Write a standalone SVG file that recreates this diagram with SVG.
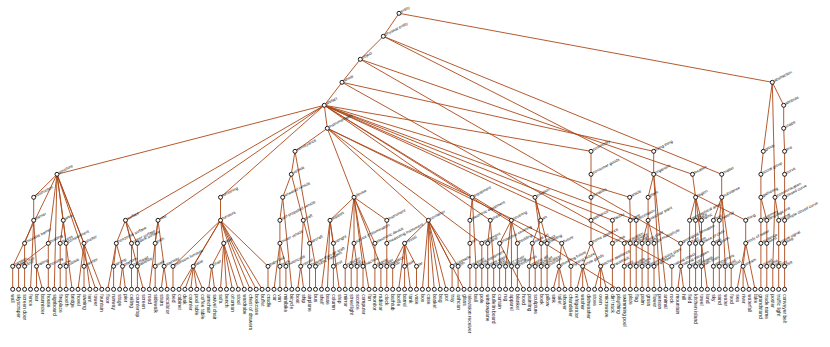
<svg xmlns="http://www.w3.org/2000/svg" width="830" height="347" viewBox="0 0 830 347">
<style>
.edges path{stroke:#ad4717;stroke-width:0.9;fill:none}
.nodes circle{fill:#fff;stroke:#111;stroke-width:0.95}
.il{font-family:"Liberation Sans",Arial,sans-serif;font-size:4px;fill:#111}
.ll{font-family:"Liberation Sans",Arial,sans-serif;font-size:4.9px;fill:#111}
</style>
<rect width="830" height="347" fill="#fff"/>
<g id="connectors" class="edges">
<path d="M399 13.3L383.3 36.3M399 13.3L772.3 82.3"/>
<path d="M383.3 36.3L360.3 59.3M383.3 36.3L721.7 174.3M383.3 36.3L745.7 220.3"/>
<path d="M360.3 59.3L342 82.3M360.3 59.3L680.7 243.3M360.3 59.3L692.5 174.3"/>
<path d="M342 82.3L324.3 105.3M342 82.3L653.7 151.3M342 82.3L671.8 266.3"/>
<path d="M324.3 105.3L327.3 128.3M324.3 105.3L57 174.3M324.3 105.3L125.5 220.3M324.3 105.3L158 220.3M324.3 105.3L220.5 197.3M324.3 105.3L490.3 220.3M324.3 105.3L511.3 220.3M324.3 105.3L535 197.3M324.3 105.3L591 151.3M324.3 105.3L612.4 220.3M324.3 105.3L624.3 243.3M324.3 105.3L629.7 197.3M324.3 105.3L636.2 220.3M324.3 105.3L618.4 289.3"/>
<path d="M327.3 128.3L295 151.3M327.3 128.3L354 197.3M327.3 128.3L428.4 220.3M327.3 128.3L472.3 197.3M327.3 128.3L481.8 243.3M327.3 128.3L561.7 243.3"/>
<path d="M57 174.3L33.7 197.3M57 174.3L63.3 220.3M57 174.3L48.3 243.3M57 174.3L12.7 266.3M57 174.3L84 243.3M57 174.3L54.3 289.3M57 174.3L72.1 289.3M57 174.3L95.8 289.3M57 174.3L101.8 289.3"/>
<path d="M33.7 197.3L33.7 220.3M33.7 220.3L24.6 243.3L24.6 266.3L24.6 289.3M33.7 220.3L36.5 266.3M33.7 220.3L30.5 289.3M36.5 266.3L36.5 289.3M36.5 266.3L42.4 289.3M12.7 266.3L12.7 289.3"/>
<path d="M48.3 243.3L18.6 266.3L18.6 289.3M48.3 243.3L48.3 266.3L48.3 289.3"/>
<path d="M63.3 220.3L60.2 243.3L60.2 266.3L60.2 289.3M63.3 220.3L66.1 243.3L66.1 266.3L66.1 289.3"/>
<path d="M84 243.3L84 266.3L84 289.3M84 243.3L78 289.3M84 243.3L89.9 289.3"/>
<path d="M125.5 220.3L116.3 243.3M125.5 220.3L131.5 243.3L131.5 266.3L131.5 289.3M125.5 220.3L137.4 243.3L137.4 266.3L137.4 289.3M125.5 220.3L143.3 289.3"/>
<path d="M116.3 243.3L113.6 266.3L113.6 289.3M116.3 243.3L122.5 266.3M116.3 243.3L107.7 289.3M122.5 266.3L119.6 289.3M122.5 266.3L125.5 289.3"/>
<path d="M158 220.3L155.2 243.3L155.2 266.3L155.2 289.3M158 220.3L164.1 266.3M158 220.3L149.3 289.3M164.1 266.3L161.2 289.3M164.1 266.3L167.1 289.3"/>
<path d="M220.5 197.3L220.5 220.3M220.5 220.3L173 266.3L173 289.3M220.5 220.3L193.3 266.3M220.5 220.3L223.7 243.3M220.5 220.3L268 266.3L268 289.3M220.5 220.3L179 289.3M220.5 220.3L244.3 289.3M220.5 220.3L250.2 289.3M220.5 220.3L256.2 289.3M220.5 220.3L262.1 289.3"/>
<path d="M193.3 266.3L184.9 289.3M193.3 266.3L190.8 289.3M193.3 266.3L196.8 289.3M193.3 266.3L202.7 289.3"/>
<path d="M223.7 243.3L211.6 266.3M223.7 243.3L220.5 289.3M223.7 243.3L226.5 289.3M223.7 243.3L232.4 289.3M223.7 243.3L238.3 289.3M211.6 266.3L208.7 289.3M211.6 266.3L214.6 289.3"/>
<path d="M295 151.3L291.3 174.3M295 151.3L315.5 266.3L315.5 289.3M291.3 174.3L282.7 197.3M291.3 174.3L303.3 220.3M282.7 197.3L279.9 220.3L279.9 243.3L279.9 266.3L279.9 289.3M282.7 197.3L291.8 289.3M279.9 243.3L285.9 266.3L285.9 289.3M279.9 243.3L274 289.3"/>
<path d="M303.3 220.3L300.7 266.3M303.3 220.3L309.6 243.3L309.6 266.3L309.6 289.3M300.7 266.3L297.7 289.3M300.7 266.3L303.7 289.3"/>
<path d="M354 197.3L330 220.3M354 197.3L345.2 266.3L345.2 289.3M354 197.3L354 243.3M354 197.3L363 266.3L363 289.3M354 197.3L374.9 243.3L374.9 266.3L374.9 289.3M354 197.3L380.9 266.3L380.9 289.3M354 197.3L386.8 220.3L386.8 243.3L386.8 266.3L386.8 289.3M354 197.3L369 289.3"/>
<path d="M330 220.3L333.4 243.3L333.4 266.3L333.4 289.3M330 220.3L321.5 289.3M330 220.3L327.4 289.3M330 220.3L339.3 289.3M354 243.3L351.2 266.3L351.2 289.3M354 243.3L357.1 266.3L357.1 289.3"/>
<path d="M428.4 220.3L404.6 243.3M428.4 220.3L452.1 266.3L452.1 289.3M428.4 220.3L458.1 266.3L458.1 289.3M428.4 220.3L422.4 289.3M428.4 220.3L428.4 289.3M428.4 220.3L434.3 289.3M428.4 220.3L440.2 289.3M428.4 220.3L446.2 289.3M428.4 220.3L464 289.3"/>
<path d="M404.6 243.3L392.7 266.3L392.7 289.3M404.6 243.3L404.6 266.3L404.6 289.3M404.6 243.3L416.5 266.3L416.5 289.3M404.6 243.3L398.7 289.3M404.6 243.3L410.5 289.3"/>
<path d="M472.3 197.3L469.9 220.3L469.9 243.3L469.9 266.3L469.9 289.3M472.3 197.3L475.9 266.3L475.9 289.3M481.8 243.3L481.8 266.3L481.8 289.3"/>
<path d="M490.3 220.3L487.7 243.3L487.7 266.3L487.7 289.3M490.3 220.3L493.7 266.3L493.7 289.3"/>
<path d="M511.3 220.3L499.6 243.3L499.6 266.3L499.6 289.3M499.6 243.3L523.4 289.3M511.3 220.3L505.6 266.3L505.6 289.3M511.3 220.3L511.5 266.3L511.5 289.3M511.3 220.3L517.4 243.3L517.4 266.3L517.4 289.3"/>
<path d="M535 197.3L540.7 220.3L532.3 243.3M535 197.3L541.2 243.3L541.2 266.3L541.2 289.3M535 197.3L547.1 243.3L547.1 266.3L547.1 289.3M532.3 243.3L529.3 266.3L529.3 289.3M532.3 243.3L535.2 266.3L535.2 289.3"/>
<path d="M561.7 243.3L559 266.3M561.7 243.3L570.9 266.3L570.9 289.3M559 266.3L553.1 289.3M559 266.3L559 289.3M559 266.3L564.9 289.3"/>
<path d="M591 151.3L591 174.3L591 197.3L591 220.3L591 243.3M591 243.3L582.7 266.3M591 243.3L600.6 266.3M582.7 266.3L576.8 289.3M582.7 266.3L582.7 289.3M582.7 266.3L588.7 289.3M600.6 266.3L594.6 289.3M600.6 266.3L600.6 289.3M600.6 266.3L606.5 289.3"/>
<path d="M612.4 220.3L612.4 243.3L612.4 266.3L612.4 289.3M624.3 243.3L624.3 266.3L624.3 289.3M629.7 197.3L630.3 220.3L630.3 243.3L630.3 266.3L630.3 289.3M636.2 220.3L636.2 243.3L636.2 266.3L636.2 289.3"/>
<path d="M653.7 151.3L653.7 174.3L648.1 197.3L648.1 220.3M653.7 174.3L659.9 289.3M653.7 174.3L665.9 289.3M648.1 220.3L642.1 243.3L642.1 266.3L642.1 289.3M648.1 220.3L648.1 243.3L648.1 266.3L648.1 289.3M648.1 220.3L654 243.3L654 266.3L654 289.3"/>
<path d="M671.8 266.3L671.8 289.3M680.7 243.3L680.7 266.3M680.7 266.3L677.8 289.3M680.7 266.3L683.7 289.3"/>
<path d="M692.5 174.3L695.6 197.3M695.6 197.3L689.6 220.3L689.6 243.3L689.6 266.3L689.6 289.3M695.6 197.3L695.6 220.3L695.6 243.3L695.6 266.3L695.6 289.3M695.6 197.3L701.5 220.3L701.5 243.3L701.5 266.3L701.5 289.3M695.6 197.3L707.4 289.3"/>
<path d="M721.7 174.3L721.7 197.3M721.7 197.3L713.4 220.3L713.4 243.3L713.4 266.3L713.4 289.3M721.7 197.3L719.3 220.3L719.3 243.3L719.3 266.3L719.3 289.3M721.7 197.3L725.3 266.3L725.3 289.3M721.7 197.3L731.2 266.3L731.2 289.3"/>
<path d="M745.7 220.3L745.7 243.3M745.7 243.3L743.1 266.3M745.7 243.3L737.1 289.3M745.7 243.3L755 289.3M743.1 266.3L743.1 289.3M743.1 266.3L749 289.3"/>
<path d="M772.3 82.3L783.7 105.3L783.7 128.3L784.6 151.3L784.6 174.3L784.6 197.3L784.6 220.3L784.6 243.3L784.6 266.3L784.6 289.3M772.3 82.3L763.3 151.3L760.9 174.3L760.9 197.3M772.3 82.3L775 197.3"/>
<path d="M760.9 197.3L760.9 220.3L760.9 243.3L760.9 266.3L760.9 289.3M760.9 197.3L766.8 220.3L766.8 243.3L766.8 266.3L766.8 289.3M775 197.3L778.7 220.3L778.7 243.3L778.7 266.3L778.7 289.3M775 197.3L772.8 266.3L772.8 289.3"/>
</g>
<g id="nodes" class="nodes">
<g id="n-entity"><circle cx="399" cy="13.3" r="2"/><text class="il" transform="translate(401.4,12.8) rotate(-27)">entity</text></g>
<g id="n-physical-entity"><circle cx="383.3" cy="36.3" r="2"/><text class="il" transform="translate(385.7,35.8) rotate(-27)">physical entity</text></g>
<g id="n-object"><circle cx="360.3" cy="59.3" r="2"/><text class="il" transform="translate(362.7,58.8) rotate(-27)">object</text></g>
<g id="n-whole"><circle cx="342" cy="82.3" r="2"/><text class="il" transform="translate(344.4,81.8) rotate(-27)">whole</text></g>
<g id="n-artifact"><circle cx="324.3" cy="105.3" r="2"/><text class="il" transform="translate(326.7,104.8) rotate(-27)">artifact</text></g>
<g id="n-instrumentality"><circle cx="327.3" cy="128.3" r="2"/><text class="il" transform="translate(329.7,127.8) rotate(-27)">instrumentality</text></g>
<g id="n-abstraction"><circle cx="772.3" cy="82.3" r="2"/><text class="il" transform="translate(774.7,81.8) rotate(-27)">abstraction</text></g>
<g id="n-structure"><circle cx="57" cy="174.3" r="2"/><text class="il" transform="translate(59.4,173.8) rotate(-27)">structure</text></g>
<g id="n-obstruction"><circle cx="33.7" cy="197.3" r="2"/><text class="il" transform="translate(36.1,196.8) rotate(-27)">obstruction</text></g>
<g id="n-barrier"><circle cx="33.7" cy="220.3" r="2"/><text class="il" transform="translate(36.1,219.8) rotate(-27)">barrier</text></g>
<g id="n-movable-barrier"><circle cx="24.6" cy="243.3" r="2"/><text class="il" transform="translate(27,242.8) rotate(-27)">movable barrier</text></g>
<g id="n-door"><circle cx="24.6" cy="266.3" r="2"/><text class="il" transform="translate(27,265.8) rotate(-27)">door</text></g>
<g id="n-railing"><circle cx="36.5" cy="266.3" r="2"/><text class="il" transform="translate(38.9,265.8) rotate(-27)">railing</text></g>
<g id="n-partition"><circle cx="12.7" cy="266.3" r="2"/><text class="il" transform="translate(15.1,265.8) rotate(-27)">partition</text></g>
<g id="n-building"><circle cx="48.3" cy="243.3" r="2"/><text class="il" transform="translate(50.7,242.8) rotate(-27)">building</text></g>
<g id="n-high-rise"><circle cx="18.6" cy="266.3" r="2"/><text class="il" transform="translate(21,265.8) rotate(-27)">high-rise</text></g>
<g id="n-housing"><circle cx="48.3" cy="266.3" r="2"/><text class="il" transform="translate(50.7,265.8) rotate(-27)">housing</text></g>
<g id="n-area"><circle cx="63.3" cy="220.3" r="2"/><text class="il" transform="translate(65.7,219.8) rotate(-27)">area</text></g>
<g id="n-recess"><circle cx="60.2" cy="243.3" r="2"/><text class="il" transform="translate(62.6,242.8) rotate(-27)">recess</text></g>
<g id="n-niche"><circle cx="60.2" cy="266.3" r="2"/><text class="il" transform="translate(62.6,265.8) rotate(-27)">niche</text></g>
<g id="n-compartment"><circle cx="66.1" cy="243.3" r="2"/><text class="il" transform="translate(68.5,242.8) rotate(-27)">compartment</text></g>
<g id="n-cubicle"><circle cx="66.1" cy="266.3" r="2"/><text class="il" transform="translate(68.5,265.8) rotate(-27)">cubicle</text></g>
<g id="n-shelter"><circle cx="84" cy="243.3" r="2"/><text class="il" transform="translate(86.4,242.8) rotate(-27)">shelter</text></g>
<g id="n-canopy"><circle cx="84" cy="266.3" r="2"/><text class="il" transform="translate(86.4,265.8) rotate(-27)">canopy</text></g>
<g id="n-surface"><circle cx="125.5" cy="220.3" r="2"/><text class="il" transform="translate(127.9,219.8) rotate(-27)">surface</text></g>
<g id="n-horizontal-surface"><circle cx="116.3" cy="243.3" r="2"/><text class="il" transform="translate(118.7,242.8) rotate(-27)">horizontal surface</text></g>
<g id="n-airstrip"><circle cx="113.6" cy="266.3" r="2"/><text class="il" transform="translate(116,265.8) rotate(-27)">airstrip</text></g>
<g id="n-platform"><circle cx="122.5" cy="266.3" r="2"/><text class="il" transform="translate(124.9,265.8) rotate(-27)">platform</text></g>
<g id="n-upper-surface"><circle cx="131.5" cy="243.3" r="2"/><text class="il" transform="translate(133.9,242.8) rotate(-27)">upper surface</text></g>
<g id="n-overhead"><circle cx="131.5" cy="266.3" r="2"/><text class="il" transform="translate(133.9,265.8) rotate(-27)">overhead</text></g>
<g id="n-work-surface"><circle cx="137.4" cy="243.3" r="2"/><text class="il" transform="translate(139.8,242.8) rotate(-27)">work surface</text></g>
<g id="n-tabletop"><circle cx="137.4" cy="266.3" r="2"/><text class="il" transform="translate(139.8,265.8) rotate(-27)">tabletop</text></g>
<g id="n-way"><circle cx="158" cy="220.3" r="2"/><text class="il" transform="translate(160.4,219.8) rotate(-27)">way</text></g>
<g id="n-path"><circle cx="155.2" cy="243.3" r="2"/><text class="il" transform="translate(157.6,242.8) rotate(-27)">path</text></g>
<g id="n-walk"><circle cx="155.2" cy="266.3" r="2"/><text class="il" transform="translate(157.6,265.8) rotate(-27)">walk</text></g>
<g id="n-stairway"><circle cx="164.1" cy="266.3" r="2"/><text class="il" transform="translate(166.5,265.8) rotate(-27)">stairway</text></g>
<g id="n-furnishing"><circle cx="220.5" cy="197.3" r="2"/><text class="il" transform="translate(222.9,196.8) rotate(-27)">furnishing</text></g>
<g id="n-furniture"><circle cx="220.5" cy="220.3" r="2"/><text class="il" transform="translate(222.9,219.8) rotate(-27)">furniture</text></g>
<g id="n-bedroom-furniture"><circle cx="173" cy="266.3" r="2"/><text class="il" transform="translate(175.4,265.8) rotate(-27)">bedroom furniture</text></g>
<g id="n-table"><circle cx="193.3" cy="266.3" r="2"/><text class="il" transform="translate(195.7,265.8) rotate(-27)">table</text></g>
<g id="n-seat"><circle cx="223.7" cy="243.3" r="2"/><text class="il" transform="translate(226.1,242.8) rotate(-27)">seat</text></g>
<g id="n-chair"><circle cx="211.6" cy="266.3" r="2"/><text class="il" transform="translate(214,265.8) rotate(-27)">chair</text></g>
<g id="n-baby-bed"><circle cx="268" cy="266.3" r="2"/><text class="il" transform="translate(270.4,265.8) rotate(-27)">baby bed</text></g>
<g id="n-conveyance"><circle cx="295" cy="151.3" r="2"/><text class="il" transform="translate(297.4,150.8) rotate(-27)">conveyance</text></g>
<g id="n-vehicle"><circle cx="291.3" cy="174.3" r="2"/><text class="il" transform="translate(293.7,173.8) rotate(-27)">vehicle</text></g>
<g id="n-wheeled-vehicle"><circle cx="282.7" cy="197.3" r="2"/><text class="il" transform="translate(285.1,196.8) rotate(-27)">wheeled vehicle</text></g>
<g id="n-self-propelled-vehicle"><circle cx="279.9" cy="220.3" r="2"/><text class="il" transform="translate(282.3,219.8) rotate(-27)">self-propelled vehicle</text></g>
<g id="n-motor-vehicle"><circle cx="279.9" cy="243.3" r="2"/><text class="il" transform="translate(282.3,242.8) rotate(-27)">motor vehicle</text></g>
<g id="n-truck"><circle cx="279.9" cy="266.3" r="2"/><text class="il" transform="translate(282.3,265.8) rotate(-27)">truck</text></g>
<g id="n-motorcycle"><circle cx="285.9" cy="266.3" r="2"/><text class="il" transform="translate(288.3,265.8) rotate(-27)">motorcycle</text></g>
<g id="n-craft"><circle cx="303.3" cy="220.3" r="2"/><text class="il" transform="translate(305.7,219.8) rotate(-27)">craft</text></g>
<g id="n-vessel-craft"><circle cx="300.7" cy="266.3" r="2"/><text class="il" transform="translate(303.1,265.8) rotate(-27)">vessel</text></g>
<g id="n-aircraft"><circle cx="309.6" cy="243.3" r="2"/><text class="il" transform="translate(312,242.8) rotate(-27)">aircraft</text></g>
<g id="n-heavier-than-air-craft"><circle cx="309.6" cy="266.3" r="2"/><text class="il" transform="translate(312,265.8) rotate(-27)">heavier-than-air craft</text></g>
<g id="n-public-transport"><circle cx="315.5" cy="266.3" r="2"/><text class="il" transform="translate(317.9,265.8) rotate(-27)">public transport</text></g>
<g id="n-device"><circle cx="354" cy="197.3" r="2"/><text class="il" transform="translate(356.4,196.8) rotate(-27)">device</text></g>
<g id="n-support"><circle cx="330" cy="220.3" r="2"/><text class="il" transform="translate(332.4,219.8) rotate(-27)">support</text></g>
<g id="n-upright"><circle cx="333.4" cy="243.3" r="2"/><text class="il" transform="translate(335.8,242.8) rotate(-27)">upright</text></g>
<g id="n-post"><circle cx="333.4" cy="266.3" r="2"/><text class="il" transform="translate(335.8,265.8) rotate(-27)">post</text></g>
<g id="n-reflector"><circle cx="345.2" cy="266.3" r="2"/><text class="il" transform="translate(347.6,265.8) rotate(-27)">reflector</text></g>
<g id="n-source-of-illumination"><circle cx="354" cy="243.3" r="2"/><text class="il" transform="translate(356.4,242.8) rotate(-27)">source of illumination</text></g>
<g id="n-lamp"><circle cx="351.2" cy="266.3" r="2"/><text class="il" transform="translate(353.6,265.8) rotate(-27)">lamp</text></g>
<g id="n-light-fixture"><circle cx="357.1" cy="266.3" r="2"/><text class="il" transform="translate(359.5,265.8) rotate(-27)">light</text></g>
<g id="n-machine"><circle cx="363" cy="266.3" r="2"/><text class="il" transform="translate(365.4,265.8) rotate(-27)">machine</text></g>
<g id="n-electronic-device"><circle cx="374.9" cy="243.3" r="2"/><text class="il" transform="translate(377.3,242.8) rotate(-27)">electronic device</text></g>
<g id="n-display"><circle cx="374.9" cy="266.3" r="2"/><text class="il" transform="translate(377.3,265.8) rotate(-27)">display</text></g>
<g id="n-heater"><circle cx="380.9" cy="266.3" r="2"/><text class="il" transform="translate(383.3,265.8) rotate(-27)">heater</text></g>
<g id="n-instrument"><circle cx="386.8" cy="220.3" r="2"/><text class="il" transform="translate(389.2,219.8) rotate(-27)">instrument</text></g>
<g id="n-measuring-instrument"><circle cx="386.8" cy="243.3" r="2"/><text class="il" transform="translate(389.2,242.8) rotate(-27)">measuring instrument</text></g>
<g id="n-timepiece"><circle cx="386.8" cy="266.3" r="2"/><text class="il" transform="translate(389.2,265.8) rotate(-27)">timepiece</text></g>
<g id="n-container"><circle cx="428.4" cy="220.3" r="2"/><text class="il" transform="translate(430.8,219.8) rotate(-27)">container</text></g>
<g id="n-vessel"><circle cx="404.6" cy="243.3" r="2"/><text class="il" transform="translate(407,242.8) rotate(-27)">vessel</text></g>
<g id="n-tub"><circle cx="392.7" cy="266.3" r="2"/><text class="il" transform="translate(395.1,265.8) rotate(-27)">tub</text></g>
<g id="n-cask"><circle cx="404.6" cy="266.3" r="2"/><text class="il" transform="translate(407,265.8) rotate(-27)">cask</text></g>
<g id="n-jar"><circle cx="416.5" cy="266.3" r="2"/><text class="il" transform="translate(418.9,265.8) rotate(-27)">jar</text></g>
<g id="n-receptacle"><circle cx="452.1" cy="266.3" r="2"/><text class="il" transform="translate(454.5,265.8) rotate(-27)">receptacle</text></g>
<g id="n-bin"><circle cx="458.1" cy="266.3" r="2"/><text class="il" transform="translate(460.5,265.8) rotate(-27)">bin</text></g>
<g id="n-equipment"><circle cx="472.3" cy="197.3" r="2"/><text class="il" transform="translate(474.7,196.8) rotate(-27)">equipment</text></g>
<g id="n-electronic-equipment"><circle cx="469.9" cy="220.3" r="2"/><text class="il" transform="translate(472.3,219.8) rotate(-27)">electronic equipment</text></g>
<g id="n-set"><circle cx="469.9" cy="243.3" r="2"/><text class="il" transform="translate(472.3,242.8) rotate(-27)">set</text></g>
<g id="n-receiver"><circle cx="469.9" cy="266.3" r="2"/><text class="il" transform="translate(472.3,265.8) rotate(-27)">receiver</text></g>
<g id="n-game-equipment"><circle cx="475.9" cy="266.3" r="2"/><text class="il" transform="translate(478.3,265.8) rotate(-27)">game equipment</text></g>
<g id="n-implement"><circle cx="481.8" cy="243.3" r="2"/><text class="il" transform="translate(484.2,242.8) rotate(-27)">implement</text></g>
<g id="n-rod"><circle cx="481.8" cy="266.3" r="2"/><text class="il" transform="translate(484.2,265.8) rotate(-27)">rod</text></g>
<g id="n-sheet"><circle cx="490.3" cy="220.3" r="2"/><text class="il" transform="translate(492.7,219.8) rotate(-27)">sheet</text></g>
<g id="n-pane"><circle cx="487.7" cy="243.3" r="2"/><text class="il" transform="translate(490.1,242.8) rotate(-27)">pane</text></g>
<g id="n-plate-glass"><circle cx="487.7" cy="266.3" r="2"/><text class="il" transform="translate(490.1,265.8) rotate(-27)">plate glass</text></g>
<g id="n-board"><circle cx="493.7" cy="266.3" r="2"/><text class="il" transform="translate(496.1,265.8) rotate(-27)">board</text></g>
<g id="n-covering"><circle cx="511.3" cy="220.3" r="2"/><text class="il" transform="translate(513.7,219.8) rotate(-27)">covering</text></g>
<g id="n-protective-covering"><circle cx="499.6" cy="243.3" r="2"/><text class="il" transform="translate(502,242.8) rotate(-27)">protective covering</text></g>
<g id="n-blind"><circle cx="499.6" cy="266.3" r="2"/><text class="il" transform="translate(502,265.8) rotate(-27)">blind</text></g>
<g id="n-floor-cover"><circle cx="505.6" cy="266.3" r="2"/><text class="il" transform="translate(508,265.8) rotate(-27)">floor cover</text></g>
<g id="n-clothing"><circle cx="511.5" cy="266.3" r="2"/><text class="il" transform="translate(513.9,265.8) rotate(-27)">clothing</text></g>
<g id="n-bedding"><circle cx="517.4" cy="243.3" r="2"/><text class="il" transform="translate(519.8,242.8) rotate(-27)">bedding</text></g>
<g id="n-bedclothes"><circle cx="517.4" cy="266.3" r="2"/><text class="il" transform="translate(519.8,265.8) rotate(-27)">bedclothes</text></g>
<g id="n-creation"><circle cx="535" cy="197.3" r="2"/><text class="il" transform="translate(537.4,196.8) rotate(-27)">creation</text></g>
<g id="n-art"><circle cx="540.7" cy="220.3" r="2"/><text class="il" transform="translate(543.1,219.8) rotate(-27)">art</text></g>
<g id="n-visual-art"><circle cx="532.3" cy="243.3" r="2"/><text class="il" transform="translate(534.7,242.8) rotate(-27)">visual art</text></g>
<g id="n-graphic-art"><circle cx="529.3" cy="266.3" r="2"/><text class="il" transform="translate(531.7,265.8) rotate(-27)">graphic art</text></g>
<g id="n-plastic-art"><circle cx="535.2" cy="266.3" r="2"/><text class="il" transform="translate(537.6,265.8) rotate(-27)">plastic art</text></g>
<g id="n-product"><circle cx="541.2" cy="243.3" r="2"/><text class="il" transform="translate(543.6,242.8) rotate(-27)">product</text></g>
<g id="n-publication"><circle cx="541.2" cy="266.3" r="2"/><text class="il" transform="translate(543.6,265.8) rotate(-27)">publication</text></g>
<g id="n-padding"><circle cx="547.1" cy="243.3" r="2"/><text class="il" transform="translate(549.5,242.8) rotate(-27)">padding</text></g>
<g id="n-cushion"><circle cx="547.1" cy="266.3" r="2"/><text class="il" transform="translate(549.5,265.8) rotate(-27)">cushion</text></g>
<g id="n-fixture"><circle cx="561.7" cy="243.3" r="2"/><text class="il" transform="translate(564.1,242.8) rotate(-27)">fixture</text></g>
<g id="n-plumbing-fixture"><circle cx="559" cy="266.3" r="2"/><text class="il" transform="translate(561.4,265.8) rotate(-27)">plumbing fixture</text></g>
<g id="n-lighting-fixture"><circle cx="570.9" cy="266.3" r="2"/><text class="il" transform="translate(573.3,265.8) rotate(-27)">lighting fixture</text></g>
<g id="n-commodity"><circle cx="591" cy="151.3" r="2"/><text class="il" transform="translate(593.4,150.8) rotate(-27)">commodity</text></g>
<g id="n-consumer-goods"><circle cx="591" cy="174.3" r="2"/><text class="il" transform="translate(593.4,173.8) rotate(-27)">consumer goods</text></g>
<g id="n-durables"><circle cx="591" cy="197.3" r="2"/><text class="il" transform="translate(593.4,196.8) rotate(-27)">durables</text></g>
<g id="n-appliance"><circle cx="591" cy="220.3" r="2"/><text class="il" transform="translate(593.4,219.8) rotate(-27)">appliance</text></g>
<g id="n-home-appliance"><circle cx="591" cy="243.3" r="2"/><text class="il" transform="translate(593.4,242.8) rotate(-27)">home appliance</text></g>
<g id="n-white-goods"><circle cx="582.7" cy="266.3" r="2"/><text class="il" transform="translate(585.1,265.8) rotate(-27)">white goods</text></g>
<g id="n-kitchen-appliance"><circle cx="600.6" cy="266.3" r="2"/><text class="il" transform="translate(603,265.8) rotate(-27)">kitchen appliance</text></g>
<g id="n-facility"><circle cx="612.4" cy="220.3" r="2"/><text class="il" transform="translate(614.8,219.8) rotate(-27)">facility</text></g>
<g id="n-course"><circle cx="612.4" cy="243.3" r="2"/><text class="il" transform="translate(614.8,242.8) rotate(-27)">course</text></g>
<g id="n-racetrack"><circle cx="612.4" cy="266.3" r="2"/><text class="il" transform="translate(614.8,265.8) rotate(-27)">racetrack</text></g>
<g id="n-excavation"><circle cx="624.3" cy="243.3" r="2"/><text class="il" transform="translate(626.7,242.8) rotate(-27)">excavation</text></g>
<g id="n-pool"><circle cx="624.3" cy="266.3" r="2"/><text class="il" transform="translate(626.7,265.8) rotate(-27)">pool</text></g>
<g id="n-article"><circle cx="629.7" cy="197.3" r="2"/><text class="il" transform="translate(632.1,196.8) rotate(-27)">article</text></g>
<g id="n-ware"><circle cx="630.3" cy="220.3" r="2"/><text class="il" transform="translate(632.7,219.8) rotate(-27)">ware</text></g>
<g id="n-tableware"><circle cx="630.3" cy="243.3" r="2"/><text class="il" transform="translate(632.7,242.8) rotate(-27)">tableware</text></g>
<g id="n-flatware"><circle cx="630.3" cy="266.3" r="2"/><text class="il" transform="translate(632.7,265.8) rotate(-27)">flatware</text></g>
<g id="n-decoration"><circle cx="636.2" cy="220.3" r="2"/><text class="il" transform="translate(638.6,219.8) rotate(-27)">decoration</text></g>
<g id="n-design"><circle cx="636.2" cy="243.3" r="2"/><text class="il" transform="translate(638.6,242.8) rotate(-27)">design</text></g>
<g id="n-emblem"><circle cx="636.2" cy="266.3" r="2"/><text class="il" transform="translate(638.6,265.8) rotate(-27)">emblem</text></g>
<g id="n-living-thing"><circle cx="653.7" cy="151.3" r="2"/><text class="il" transform="translate(656.1,150.8) rotate(-27)">living thing</text></g>
<g id="n-organism"><circle cx="653.7" cy="174.3" r="2"/><text class="il" transform="translate(656.1,173.8) rotate(-27)">organism</text></g>
<g id="n-plant"><circle cx="648.1" cy="197.3" r="2"/><text class="il" transform="translate(650.5,196.8) rotate(-27)">plant</text></g>
<g id="n-vascular-plant"><circle cx="648.1" cy="220.3" r="2"/><text class="il" transform="translate(650.5,219.8) rotate(-27)">vascular plant</text></g>
<g id="n-woody-plant"><circle cx="642.1" cy="243.3" r="2"/><text class="il" transform="translate(644.5,242.8) rotate(-27)">woody plant</text></g>
<g id="n-tree"><circle cx="642.1" cy="266.3" r="2"/><text class="il" transform="translate(644.5,265.8) rotate(-27)">tree</text></g>
<g id="n-herb"><circle cx="648.1" cy="243.3" r="2"/><text class="il" transform="translate(650.5,242.8) rotate(-27)">herb</text></g>
<g id="n-graminaceous-plant"><circle cx="648.1" cy="266.3" r="2"/><text class="il" transform="translate(650.5,265.8) rotate(-27)">graminaceous plant</text></g>
<g id="n-spermatophyte"><circle cx="654" cy="243.3" r="2"/><text class="il" transform="translate(656.4,242.8) rotate(-27)">spermatophyte</text></g>
<g id="n-angiosperm"><circle cx="654" cy="266.3" r="2"/><text class="il" transform="translate(656.4,265.8) rotate(-27)">angiosperm</text></g>
<g id="n-natural-object"><circle cx="671.8" cy="266.3" r="2"/><text class="il" transform="translate(674.2,265.8) rotate(-27)">natural object</text></g>
<g id="n-geological-formation"><circle cx="680.7" cy="243.3" r="2"/><text class="il" transform="translate(683.1,242.8) rotate(-27)">geological formation</text></g>
<g id="n-natural-elevation"><circle cx="680.7" cy="266.3" r="2"/><text class="il" transform="translate(683.1,265.8) rotate(-27)">natural elevation</text></g>
<g id="n-location"><circle cx="692.5" cy="174.3" r="2"/><text class="il" transform="translate(694.9,173.8) rotate(-27)">location</text></g>
<g id="n-region"><circle cx="695.6" cy="197.3" r="2"/><text class="il" transform="translate(698,196.8) rotate(-27)">region</text></g>
<g id="n-geographical-area"><circle cx="689.6" cy="220.3" r="2"/><text class="il" transform="translate(692,219.8) rotate(-27)">geographical area</text></g>
<g id="n-tract"><circle cx="689.6" cy="243.3" r="2"/><text class="il" transform="translate(692,242.8) rotate(-27)">tract</text></g>
<g id="n-parcel"><circle cx="689.6" cy="266.3" r="2"/><text class="il" transform="translate(692,265.8) rotate(-27)">parcel</text></g>
<g id="n-space"><circle cx="695.6" cy="220.3" r="2"/><text class="il" transform="translate(698,219.8) rotate(-27)">space</text></g>
<g id="n-room"><circle cx="695.6" cy="243.3" r="2"/><text class="il" transform="translate(698,242.8) rotate(-27)">room</text></g>
<g id="n-worktable"><circle cx="695.6" cy="266.3" r="2"/><text class="il" transform="translate(698,265.8) rotate(-27)">worktable</text></g>
<g id="n-fabric"><circle cx="701.5" cy="220.3" r="2"/><text class="il" transform="translate(703.9,219.8) rotate(-27)">fabric</text></g>
<g id="n-piece-of-cloth"><circle cx="701.5" cy="243.3" r="2"/><text class="il" transform="translate(703.9,242.8) rotate(-27)">piece of cloth</text></g>
<g id="n-bath-linen"><circle cx="701.5" cy="266.3" r="2"/><text class="il" transform="translate(703.9,265.8) rotate(-27)">bath linen</text></g>
<g id="n-matter"><circle cx="721.7" cy="174.3" r="2"/><text class="il" transform="translate(724.1,173.8) rotate(-27)">matter</text></g>
<g id="n-substance"><circle cx="721.7" cy="197.3" r="2"/><text class="il" transform="translate(724.1,196.8) rotate(-27)">substance</text></g>
<g id="n-fluid"><circle cx="713.4" cy="220.3" r="2"/><text class="il" transform="translate(715.8,219.8) rotate(-27)">fluid</text></g>
<g id="n-gas"><circle cx="713.4" cy="243.3" r="2"/><text class="il" transform="translate(715.8,242.8) rotate(-27)">gas</text></g>
<g id="n-atmosphere"><circle cx="713.4" cy="266.3" r="2"/><text class="il" transform="translate(715.8,265.8) rotate(-27)">atmosphere</text></g>
<g id="n-material"><circle cx="719.3" cy="220.3" r="2"/><text class="il" transform="translate(721.7,219.8) rotate(-27)">material</text></g>
<g id="n-earth"><circle cx="719.3" cy="243.3" r="2"/><text class="il" transform="translate(721.7,242.8) rotate(-27)">earth</text></g>
<g id="n-soil"><circle cx="719.3" cy="266.3" r="2"/><text class="il" transform="translate(721.7,265.8) rotate(-27)">soil</text></g>
<g id="n-liquid"><circle cx="725.3" cy="266.3" r="2"/><text class="il" transform="translate(727.7,265.8) rotate(-27)">liquid</text></g>
<g id="n-solid"><circle cx="731.2" cy="266.3" r="2"/><text class="il" transform="translate(733.6,265.8) rotate(-27)">solid</text></g>
<g id="n-thing"><circle cx="745.7" cy="220.3" r="2"/><text class="il" transform="translate(748.1,219.8) rotate(-27)">thing</text></g>
<g id="n-body-of-water"><circle cx="745.7" cy="243.3" r="2"/><text class="il" transform="translate(748.1,242.8) rotate(-27)">body of water</text></g>
<g id="n-stream"><circle cx="743.1" cy="266.3" r="2"/><text class="il" transform="translate(745.5,265.8) rotate(-27)">stream</text></g>
<g id="n-group"><circle cx="763.3" cy="151.3" r="2"/><text class="il" transform="translate(765.7,150.8) rotate(-27)">group</text></g>
<g id="n-social-group"><circle cx="760.9" cy="174.3" r="2"/><text class="il" transform="translate(763.3,173.8) rotate(-27)">social group</text></g>
<g id="n-gathering"><circle cx="760.9" cy="197.3" r="2"/><text class="il" transform="translate(763.3,196.8) rotate(-27)">gathering</text></g>
<g id="n-assembly"><circle cx="760.9" cy="220.3" r="2"/><text class="il" transform="translate(763.3,219.8) rotate(-27)">assembly</text></g>
<g id="n-audience"><circle cx="760.9" cy="243.3" r="2"/><text class="il" transform="translate(763.3,242.8) rotate(-27)">audience</text></g>
<g id="n-crowd"><circle cx="760.9" cy="266.3" r="2"/><text class="il" transform="translate(763.3,265.8) rotate(-27)">crowd</text></g>
<g id="n-language-unit"><circle cx="766.8" cy="220.3" r="2"/><text class="il" transform="translate(769.2,219.8) rotate(-27)">language unit</text></g>
<g id="n-word"><circle cx="766.8" cy="243.3" r="2"/><text class="il" transform="translate(769.2,242.8) rotate(-27)">word</text></g>
<g id="n-name"><circle cx="766.8" cy="266.3" r="2"/><text class="il" transform="translate(769.2,265.8) rotate(-27)">name</text></g>
<g id="n-sign"><circle cx="772.8" cy="266.3" r="2"/><text class="il" transform="translate(775.2,265.8) rotate(-27)">sign</text></g>
<g id="n-communication"><circle cx="775" cy="197.3" r="2"/><text class="il" transform="translate(777.4,196.8) rotate(-27)">communication</text></g>
<g id="n-signal"><circle cx="778.7" cy="220.3" r="2"/><text class="il" transform="translate(781.1,219.8) rotate(-27)">signal</text></g>
<g id="n-visual-signal"><circle cx="778.7" cy="243.3" r="2"/><text class="il" transform="translate(781.1,242.8) rotate(-27)">visual signal</text></g>
<g id="n-light"><circle cx="778.7" cy="266.3" r="2"/><text class="il" transform="translate(781.1,265.8) rotate(-27)">light</text></g>
<g id="n-attribute"><circle cx="783.7" cy="105.3" r="2"/><text class="il" transform="translate(786.1,104.8) rotate(-27)">attribute</text></g>
<g id="n-shape"><circle cx="783.7" cy="128.3" r="2"/><text class="il" transform="translate(786.1,127.8) rotate(-27)">shape</text></g>
<g id="n-line"><circle cx="784.6" cy="151.3" r="2"/><text class="il" transform="translate(787,150.8) rotate(-27)">line</text></g>
<g id="n-curve"><circle cx="784.6" cy="174.3" r="2"/><text class="il" transform="translate(787,173.8) rotate(-27)">curve</text></g>
<g id="n-closed-curve"><circle cx="784.6" cy="197.3" r="2"/><text class="il" transform="translate(787,196.8) rotate(-27)">closed curve</text></g>
<g id="n-simple-closed-curve"><circle cx="784.6" cy="220.3" r="2"/><text class="il" transform="translate(787,219.8) rotate(-27)">simple closed curve</text></g>
<g id="n-loop"><circle cx="784.6" cy="243.3" r="2"/><text class="il" transform="translate(787,242.8) rotate(-27)">loop</text></g>
<g id="n-belt"><circle cx="784.6" cy="266.3" r="2"/><text class="il" transform="translate(787,265.8) rotate(-27)">belt</text></g>
</g>
<g id="leaves" class="nodes">
<g id="leaf-wall"><circle cx="12.7" cy="289.3" r="2"/><text class="ll" transform="translate(12.7,294.2) rotate(90)" dominant-baseline="central">wall</text></g>
<g id="leaf-skyscraper"><circle cx="18.6" cy="289.3" r="2"/><text class="ll" transform="translate(18.6,294.2) rotate(90)" dominant-baseline="central">skyscraper</text></g>
<g id="leaf-screen-door"><circle cx="24.6" cy="289.3" r="2"/><text class="ll" transform="translate(24.6,294.2) rotate(90)" dominant-baseline="central">screen door</text></g>
<g id="leaf-fence"><circle cx="30.5" cy="289.3" r="2"/><text class="ll" transform="translate(30.5,294.2) rotate(90)" dominant-baseline="central">fence</text></g>
<g id="leaf-bar"><circle cx="36.5" cy="289.3" r="2"/><text class="ll" transform="translate(36.5,294.2) rotate(90)" dominant-baseline="central">bar</text></g>
<g id="leaf-bannister"><circle cx="42.4" cy="289.3" r="2"/><text class="ll" transform="translate(42.4,294.2) rotate(90)" dominant-baseline="central">bannister</text></g>
<g id="leaf-house"><circle cx="48.3" cy="289.3" r="2"/><text class="ll" transform="translate(48.3,294.2) rotate(90)" dominant-baseline="central">house</text></g>
<g id="leaf-signboard"><circle cx="54.3" cy="289.3" r="2"/><text class="ll" transform="translate(54.3,294.2) rotate(90)" dominant-baseline="central">signboard</text></g>
<g id="leaf-fireplace"><circle cx="60.2" cy="289.3" r="2"/><text class="ll" transform="translate(60.2,294.2) rotate(90)" dominant-baseline="central">fireplace</text></g>
<g id="leaf-booth"><circle cx="66.1" cy="289.3" r="2"/><text class="ll" transform="translate(66.1,294.2) rotate(90)" dominant-baseline="central">booth</text></g>
<g id="leaf-bridge"><circle cx="72.1" cy="289.3" r="2"/><text class="ll" transform="translate(72.1,294.2) rotate(90)" dominant-baseline="central">bridge</text></g>
<g id="leaf-hovel"><circle cx="78" cy="289.3" r="2"/><text class="ll" transform="translate(78,294.2) rotate(90)" dominant-baseline="central">hovel</text></g>
<g id="leaf-awning"><circle cx="84" cy="289.3" r="2"/><text class="ll" transform="translate(84,294.2) rotate(90)" dominant-baseline="central">awning</text></g>
<g id="leaf-tent"><circle cx="89.9" cy="289.3" r="2"/><text class="ll" transform="translate(89.9,294.2) rotate(90)" dominant-baseline="central">tent</text></g>
<g id="leaf-tower"><circle cx="95.8" cy="289.3" r="2"/><text class="ll" transform="translate(95.8,294.2) rotate(90)" dominant-baseline="central">tower</text></g>
<g id="leaf-fountain"><circle cx="101.8" cy="289.3" r="2"/><text class="ll" transform="translate(101.8,294.2) rotate(90)" dominant-baseline="central">fountain</text></g>
<g id="leaf-floor"><circle cx="107.7" cy="289.3" r="2"/><text class="ll" transform="translate(107.7,294.2) rotate(90)" dominant-baseline="central">floor</text></g>
<g id="leaf-runway"><circle cx="113.6" cy="289.3" r="2"/><text class="ll" transform="translate(113.6,294.2) rotate(90)" dominant-baseline="central">runway</text></g>
<g id="leaf-stage"><circle cx="119.6" cy="289.3" r="2"/><text class="ll" transform="translate(119.6,294.2) rotate(90)" dominant-baseline="central">stage</text></g>
<g id="leaf-pier"><circle cx="125.5" cy="289.3" r="2"/><text class="ll" transform="translate(125.5,294.2) rotate(90)" dominant-baseline="central">pier</text></g>
<g id="leaf-ceiling"><circle cx="131.5" cy="289.3" r="2"/><text class="ll" transform="translate(131.5,294.2) rotate(90)" dominant-baseline="central">ceiling</text></g>
<g id="leaf-countertop"><circle cx="137.4" cy="289.3" r="2"/><text class="ll" transform="translate(137.4,294.2) rotate(90)" dominant-baseline="central">countertop</text></g>
<g id="leaf-screen"><circle cx="143.3" cy="289.3" r="2"/><text class="ll" transform="translate(143.3,294.2) rotate(90)" dominant-baseline="central">screen</text></g>
<g id="leaf-road"><circle cx="149.3" cy="289.3" r="2"/><text class="ll" transform="translate(149.3,294.2) rotate(90)" dominant-baseline="central">road</text></g>
<g id="leaf-sidewalk"><circle cx="155.2" cy="289.3" r="2"/><text class="ll" transform="translate(155.2,294.2) rotate(90)" dominant-baseline="central">sidewalk</text></g>
<g id="leaf-stairs"><circle cx="161.2" cy="289.3" r="2"/><text class="ll" transform="translate(161.2,294.2) rotate(90)" dominant-baseline="central">stairs</text></g>
<g id="leaf-escalator"><circle cx="167.1" cy="289.3" r="2"/><text class="ll" transform="translate(167.1,294.2) rotate(90)" dominant-baseline="central">escalator</text></g>
<g id="leaf-bed"><circle cx="173" cy="289.3" r="2"/><text class="ll" transform="translate(173,294.2) rotate(90)" dominant-baseline="central">bed</text></g>
<g id="leaf-cabinet"><circle cx="179" cy="289.3" r="2"/><text class="ll" transform="translate(179,294.2) rotate(90)" dominant-baseline="central">cabinet</text></g>
<g id="leaf-desk"><circle cx="184.9" cy="289.3" r="2"/><text class="ll" transform="translate(184.9,294.2) rotate(90)" dominant-baseline="central">desk</text></g>
<g id="leaf-counter"><circle cx="190.8" cy="289.3" r="2"/><text class="ll" transform="translate(190.8,294.2) rotate(90)" dominant-baseline="central">counter</text></g>
<g id="leaf-pool-table"><circle cx="196.8" cy="289.3" r="2"/><text class="ll" transform="translate(196.8,294.2) rotate(90)" dominant-baseline="central">pool table</text></g>
<g id="leaf-coffee-table"><circle cx="202.7" cy="289.3" r="2"/><text class="ll" transform="translate(202.7,294.2) rotate(90)" dominant-baseline="central">coffee table</text></g>
<g id="leaf-armchair"><circle cx="208.7" cy="289.3" r="2"/><text class="ll" transform="translate(208.7,294.2) rotate(90)" dominant-baseline="central">armchair</text></g>
<g id="leaf-swivel-chair"><circle cx="214.6" cy="289.3" r="2"/><text class="ll" transform="translate(214.6,294.2) rotate(90)" dominant-baseline="central">swivel chair</text></g>
<g id="leaf-sofa"><circle cx="220.5" cy="289.3" r="2"/><text class="ll" transform="translate(220.5,294.2) rotate(90)" dominant-baseline="central">sofa</text></g>
<g id="leaf-bench"><circle cx="226.5" cy="289.3" r="2"/><text class="ll" transform="translate(226.5,294.2) rotate(90)" dominant-baseline="central">bench</text></g>
<g id="leaf-ottoman"><circle cx="232.4" cy="289.3" r="2"/><text class="ll" transform="translate(232.4,294.2) rotate(90)" dominant-baseline="central">ottoman</text></g>
<g id="leaf-stool"><circle cx="238.3" cy="289.3" r="2"/><text class="ll" transform="translate(238.3,294.2) rotate(90)" dominant-baseline="central">stool</text></g>
<g id="leaf-wardrobe"><circle cx="244.3" cy="289.3" r="2"/><text class="ll" transform="translate(244.3,294.2) rotate(90)" dominant-baseline="central">wardrobe</text></g>
<g id="leaf-chest-of-drawers"><circle cx="250.2" cy="289.3" r="2"/><text class="ll" transform="translate(250.2,294.2) rotate(90)" dominant-baseline="central">chest of drawers</text></g>
<g id="leaf-bookcase"><circle cx="256.2" cy="289.3" r="2"/><text class="ll" transform="translate(256.2,294.2) rotate(90)" dominant-baseline="central">bookcase</text></g>
<g id="leaf-buffet"><circle cx="262.1" cy="289.3" r="2"/><text class="ll" transform="translate(262.1,294.2) rotate(90)" dominant-baseline="central">buffet</text></g>
<g id="leaf-cradle"><circle cx="268" cy="289.3" r="2"/><text class="ll" transform="translate(268,294.2) rotate(90)" dominant-baseline="central">cradle</text></g>
<g id="leaf-car"><circle cx="274" cy="289.3" r="2"/><text class="ll" transform="translate(274,294.2) rotate(90)" dominant-baseline="central">car</text></g>
<g id="leaf-van"><circle cx="279.9" cy="289.3" r="2"/><text class="ll" transform="translate(279.9,294.2) rotate(90)" dominant-baseline="central">van</text></g>
<g id="leaf-minibike"><circle cx="285.9" cy="289.3" r="2"/><text class="ll" transform="translate(285.9,294.2) rotate(90)" dominant-baseline="central">minibike</text></g>
<g id="leaf-bicycle"><circle cx="291.8" cy="289.3" r="2"/><text class="ll" transform="translate(291.8,294.2) rotate(90)" dominant-baseline="central">bicycle</text></g>
<g id="leaf-boat"><circle cx="297.7" cy="289.3" r="2"/><text class="ll" transform="translate(297.7,294.2) rotate(90)" dominant-baseline="central">boat</text></g>
<g id="leaf-ship"><circle cx="303.7" cy="289.3" r="2"/><text class="ll" transform="translate(303.7,294.2) rotate(90)" dominant-baseline="central">ship</text></g>
<g id="leaf-airplane"><circle cx="309.6" cy="289.3" r="2"/><text class="ll" transform="translate(309.6,294.2) rotate(90)" dominant-baseline="central">airplane</text></g>
<g id="leaf-bus"><circle cx="315.5" cy="289.3" r="2"/><text class="ll" transform="translate(315.5,294.2) rotate(90)" dominant-baseline="central">bus</text></g>
<g id="leaf-shelf"><circle cx="321.5" cy="289.3" r="2"/><text class="ll" transform="translate(321.5,294.2) rotate(90)" dominant-baseline="central">shelf</text></g>
<g id="leaf-base"><circle cx="327.4" cy="289.3" r="2"/><text class="ll" transform="translate(327.4,294.2) rotate(90)" dominant-baseline="central">base</text></g>
<g id="leaf-column"><circle cx="333.4" cy="289.3" r="2"/><text class="ll" transform="translate(333.4,294.2) rotate(90)" dominant-baseline="central">column</text></g>
<g id="leaf-step"><circle cx="339.3" cy="289.3" r="2"/><text class="ll" transform="translate(339.3,294.2) rotate(90)" dominant-baseline="central">step</text></g>
<g id="leaf-mirror"><circle cx="345.2" cy="289.3" r="2"/><text class="ll" transform="translate(345.2,294.2) rotate(90)" dominant-baseline="central">mirror</text></g>
<g id="leaf-streetlight"><circle cx="351.2" cy="289.3" r="2"/><text class="ll" transform="translate(351.2,294.2) rotate(90)" dominant-baseline="central">streetlight</text></g>
<g id="leaf-sconce"><circle cx="357.1" cy="289.3" r="2"/><text class="ll" transform="translate(357.1,294.2) rotate(90)" dominant-baseline="central">sconce</text></g>
<g id="leaf-computer"><circle cx="363" cy="289.3" r="2"/><text class="ll" transform="translate(363,294.2) rotate(90)" dominant-baseline="central">computer</text></g>
<g id="leaf-fan"><circle cx="369" cy="289.3" r="2"/><text class="ll" transform="translate(369,294.2) rotate(90)" dominant-baseline="central">fan</text></g>
<g id="leaf-monitor"><circle cx="374.9" cy="289.3" r="2"/><text class="ll" transform="translate(374.9,294.2) rotate(90)" dominant-baseline="central">monitor</text></g>
<g id="leaf-radiator"><circle cx="380.9" cy="289.3" r="2"/><text class="ll" transform="translate(380.9,294.2) rotate(90)" dominant-baseline="central">radiator</text></g>
<g id="leaf-clock"><circle cx="386.8" cy="289.3" r="2"/><text class="ll" transform="translate(386.8,294.2) rotate(90)" dominant-baseline="central">clock</text></g>
<g id="leaf-bathtub"><circle cx="392.7" cy="289.3" r="2"/><text class="ll" transform="translate(392.7,294.2) rotate(90)" dominant-baseline="central">bathtub</text></g>
<g id="leaf-bottle"><circle cx="398.7" cy="289.3" r="2"/><text class="ll" transform="translate(398.7,294.2) rotate(90)" dominant-baseline="central">bottle</text></g>
<g id="leaf-barrel"><circle cx="404.6" cy="289.3" r="2"/><text class="ll" transform="translate(404.6,294.2) rotate(90)" dominant-baseline="central">barrel</text></g>
<g id="leaf-tank"><circle cx="410.5" cy="289.3" r="2"/><text class="ll" transform="translate(410.5,294.2) rotate(90)" dominant-baseline="central">tank</text></g>
<g id="leaf-vase"><circle cx="416.5" cy="289.3" r="2"/><text class="ll" transform="translate(416.5,294.2) rotate(90)" dominant-baseline="central">vase</text></g>
<g id="leaf-box"><circle cx="422.4" cy="289.3" r="2"/><text class="ll" transform="translate(422.4,294.2) rotate(90)" dominant-baseline="central">box</text></g>
<g id="leaf-case"><circle cx="428.4" cy="289.3" r="2"/><text class="ll" transform="translate(428.4,294.2) rotate(90)" dominant-baseline="central">case</text></g>
<g id="leaf-basket"><circle cx="434.3" cy="289.3" r="2"/><text class="ll" transform="translate(434.3,294.2) rotate(90)" dominant-baseline="central">basket</text></g>
<g id="leaf-bag"><circle cx="440.2" cy="289.3" r="2"/><text class="ll" transform="translate(440.2,294.2) rotate(90)" dominant-baseline="central">bag</text></g>
<g id="leaf-pot"><circle cx="446.2" cy="289.3" r="2"/><text class="ll" transform="translate(446.2,294.2) rotate(90)" dominant-baseline="central">pot</text></g>
<g id="leaf-tray"><circle cx="452.1" cy="289.3" r="2"/><text class="ll" transform="translate(452.1,294.2) rotate(90)" dominant-baseline="central">tray</text></g>
<g id="leaf-ashcan"><circle cx="458.1" cy="289.3" r="2"/><text class="ll" transform="translate(458.1,294.2) rotate(90)" dominant-baseline="central">ashcan</text></g>
<g id="leaf-glass"><circle cx="464" cy="289.3" r="2"/><text class="ll" transform="translate(464,294.2) rotate(90)" dominant-baseline="central">glass</text></g>
<g id="leaf-television-receiver"><circle cx="469.9" cy="289.3" r="2"/><text class="ll" transform="translate(469.9,294.2) rotate(90)" dominant-baseline="central">television receiver</text></g>
<g id="leaf-ball"><circle cx="475.9" cy="289.3" r="2"/><text class="ll" transform="translate(475.9,294.2) rotate(90)" dominant-baseline="central">ball</text></g>
<g id="leaf-pole"><circle cx="481.8" cy="289.3" r="2"/><text class="ll" transform="translate(481.8,294.2) rotate(90)" dominant-baseline="central">pole</text></g>
<g id="leaf-windowpane"><circle cx="487.7" cy="289.3" r="2"/><text class="ll" transform="translate(487.7,294.2) rotate(90)" dominant-baseline="central">windowpane</text></g>
<g id="leaf-bulletin-board"><circle cx="493.7" cy="289.3" r="2"/><text class="ll" transform="translate(493.7,294.2) rotate(90)" dominant-baseline="central">bulletin board</text></g>
<g id="leaf-curtain"><circle cx="499.6" cy="289.3" r="2"/><text class="ll" transform="translate(499.6,294.2) rotate(90)" dominant-baseline="central">curtain</text></g>
<g id="leaf-rug"><circle cx="505.6" cy="289.3" r="2"/><text class="ll" transform="translate(505.6,294.2) rotate(90)" dominant-baseline="central">rug</text></g>
<g id="leaf-apparel"><circle cx="511.5" cy="289.3" r="2"/><text class="ll" transform="translate(511.5,294.2) rotate(90)" dominant-baseline="central">apparel</text></g>
<g id="leaf-blanket"><circle cx="517.4" cy="289.3" r="2"/><text class="ll" transform="translate(517.4,294.2) rotate(90)" dominant-baseline="central">blanket</text></g>
<g id="leaf-hood"><circle cx="523.4" cy="289.3" r="2"/><text class="ll" transform="translate(523.4,294.2) rotate(90)" dominant-baseline="central">hood</text></g>
<g id="leaf-painting"><circle cx="529.3" cy="289.3" r="2"/><text class="ll" transform="translate(529.3,294.2) rotate(90)" dominant-baseline="central">painting</text></g>
<g id="leaf-sculpture"><circle cx="535.2" cy="289.3" r="2"/><text class="ll" transform="translate(535.2,294.2) rotate(90)" dominant-baseline="central">sculpture</text></g>
<g id="leaf-book"><circle cx="541.2" cy="289.3" r="2"/><text class="ll" transform="translate(541.2,294.2) rotate(90)" dominant-baseline="central">book</text></g>
<g id="leaf-pillow"><circle cx="547.1" cy="289.3" r="2"/><text class="ll" transform="translate(547.1,294.2) rotate(90)" dominant-baseline="central">pillow</text></g>
<g id="leaf-sink"><circle cx="553.1" cy="289.3" r="2"/><text class="ll" transform="translate(553.1,294.2) rotate(90)" dominant-baseline="central">sink</text></g>
<g id="leaf-toilet"><circle cx="559" cy="289.3" r="2"/><text class="ll" transform="translate(559,294.2) rotate(90)" dominant-baseline="central">toilet</text></g>
<g id="leaf-shower"><circle cx="564.9" cy="289.3" r="2"/><text class="ll" transform="translate(564.9,294.2) rotate(90)" dominant-baseline="central">shower</text></g>
<g id="leaf-chandelier"><circle cx="570.9" cy="289.3" r="2"/><text class="ll" transform="translate(570.9,294.2) rotate(90)" dominant-baseline="central">chandelier</text></g>
<g id="leaf-refrigerator"><circle cx="576.8" cy="289.3" r="2"/><text class="ll" transform="translate(576.8,294.2) rotate(90)" dominant-baseline="central">refrigerator</text></g>
<g id="leaf-washer"><circle cx="582.7" cy="289.3" r="2"/><text class="ll" transform="translate(582.7,294.2) rotate(90)" dominant-baseline="central">washer</text></g>
<g id="leaf-dishwasher"><circle cx="588.7" cy="289.3" r="2"/><text class="ll" transform="translate(588.7,294.2) rotate(90)" dominant-baseline="central">dishwasher</text></g>
<g id="leaf-stove"><circle cx="594.6" cy="289.3" r="2"/><text class="ll" transform="translate(594.6,294.2) rotate(90)" dominant-baseline="central">stove</text></g>
<g id="leaf-oven"><circle cx="600.6" cy="289.3" r="2"/><text class="ll" transform="translate(600.6,294.2) rotate(90)" dominant-baseline="central">oven</text></g>
<g id="leaf-microwave"><circle cx="606.5" cy="289.3" r="2"/><text class="ll" transform="translate(606.5,294.2) rotate(90)" dominant-baseline="central">microwave</text></g>
<g id="leaf-dirt-track"><circle cx="612.4" cy="289.3" r="2"/><text class="ll" transform="translate(612.4,294.2) rotate(90)" dominant-baseline="central">dirt track</text></g>
<g id="leaf-plaything"><circle cx="618.4" cy="289.3" r="2"/><text class="ll" transform="translate(618.4,294.2) rotate(90)" dominant-baseline="central">plaything</text></g>
<g id="leaf-swimming-pool"><circle cx="624.3" cy="289.3" r="2"/><text class="ll" transform="translate(624.3,294.2) rotate(90)" dominant-baseline="central">swimming pool</text></g>
<g id="leaf-plate"><circle cx="630.3" cy="289.3" r="2"/><text class="ll" transform="translate(630.3,294.2) rotate(90)" dominant-baseline="central">plate</text></g>
<g id="leaf-flag"><circle cx="636.2" cy="289.3" r="2"/><text class="ll" transform="translate(636.2,294.2) rotate(90)" dominant-baseline="central">flag</text></g>
<g id="leaf-palm"><circle cx="642.1" cy="289.3" r="2"/><text class="ll" transform="translate(642.1,294.2) rotate(90)" dominant-baseline="central">palm</text></g>
<g id="leaf-grass"><circle cx="648.1" cy="289.3" r="2"/><text class="ll" transform="translate(648.1,294.2) rotate(90)" dominant-baseline="central">grass</text></g>
<g id="leaf-flower"><circle cx="654" cy="289.3" r="2"/><text class="ll" transform="translate(654,294.2) rotate(90)" dominant-baseline="central">flower</text></g>
<g id="leaf-person"><circle cx="659.9" cy="289.3" r="2"/><text class="ll" transform="translate(659.9,294.2) rotate(90)" dominant-baseline="central">person</text></g>
<g id="leaf-animal"><circle cx="665.9" cy="289.3" r="2"/><text class="ll" transform="translate(665.9,294.2) rotate(90)" dominant-baseline="central">animal</text></g>
<g id="leaf-rock"><circle cx="671.8" cy="289.3" r="2"/><text class="ll" transform="translate(671.8,294.2) rotate(90)" dominant-baseline="central">rock</text></g>
<g id="leaf-mountain"><circle cx="677.8" cy="289.3" r="2"/><text class="ll" transform="translate(677.8,294.2) rotate(90)" dominant-baseline="central">mountain</text></g>
<g id="leaf-hill"><circle cx="683.7" cy="289.3" r="2"/><text class="ll" transform="translate(683.7,294.2) rotate(90)" dominant-baseline="central">hill</text></g>
<g id="leaf-field"><circle cx="689.6" cy="289.3" r="2"/><text class="ll" transform="translate(689.6,294.2) rotate(90)" dominant-baseline="central">field</text></g>
<g id="leaf-kitchen-island"><circle cx="695.6" cy="289.3" r="2"/><text class="ll" transform="translate(695.6,294.2) rotate(90)" dominant-baseline="central">kitchen island</text></g>
<g id="leaf-towel"><circle cx="701.5" cy="289.3" r="2"/><text class="ll" transform="translate(701.5,294.2) rotate(90)" dominant-baseline="central">towel</text></g>
<g id="leaf-land"><circle cx="707.4" cy="289.3" r="2"/><text class="ll" transform="translate(707.4,294.2) rotate(90)" dominant-baseline="central">land</text></g>
<g id="leaf-sky"><circle cx="713.4" cy="289.3" r="2"/><text class="ll" transform="translate(713.4,294.2) rotate(90)" dominant-baseline="central">sky</text></g>
<g id="leaf-sand"><circle cx="719.3" cy="289.3" r="2"/><text class="ll" transform="translate(719.3,294.2) rotate(90)" dominant-baseline="central">sand</text></g>
<g id="leaf-water"><circle cx="725.3" cy="289.3" r="2"/><text class="ll" transform="translate(725.3,294.2) rotate(90)" dominant-baseline="central">water</text></g>
<g id="leaf-food"><circle cx="731.2" cy="289.3" r="2"/><text class="ll" transform="translate(731.2,294.2) rotate(90)" dominant-baseline="central">food</text></g>
<g id="leaf-sea"><circle cx="737.1" cy="289.3" r="2"/><text class="ll" transform="translate(737.1,294.2) rotate(90)" dominant-baseline="central">sea</text></g>
<g id="leaf-river"><circle cx="743.1" cy="289.3" r="2"/><text class="ll" transform="translate(743.1,294.2) rotate(90)" dominant-baseline="central">river</text></g>
<g id="leaf-waterfall"><circle cx="749" cy="289.3" r="2"/><text class="ll" transform="translate(749,294.2) rotate(90)" dominant-baseline="central">waterfall</text></g>
<g id="leaf-lake"><circle cx="755" cy="289.3" r="2"/><text class="ll" transform="translate(755,294.2) rotate(90)" dominant-baseline="central">lake</text></g>
<g id="leaf-grandstand"><circle cx="760.9" cy="289.3" r="2"/><text class="ll" transform="translate(760.9,294.2) rotate(90)" dominant-baseline="central">grandstand</text></g>
<g id="leaf-trade-name"><circle cx="766.8" cy="289.3" r="2"/><text class="ll" transform="translate(766.8,294.2) rotate(90)" dominant-baseline="central">trade name</text></g>
<g id="leaf-poster"><circle cx="772.8" cy="289.3" r="2"/><text class="ll" transform="translate(772.8,294.2) rotate(90)" dominant-baseline="central">poster</text></g>
<g id="leaf-traffic-light"><circle cx="778.7" cy="289.3" r="2"/><text class="ll" transform="translate(778.7,294.2) rotate(90)" dominant-baseline="central">traffic light</text></g>
<g id="leaf-conveyer-belt"><circle cx="784.6" cy="289.3" r="2"/><text class="ll" transform="translate(784.6,294.2) rotate(90)" dominant-baseline="central">conveyer belt</text></g>
</g>
</svg>
